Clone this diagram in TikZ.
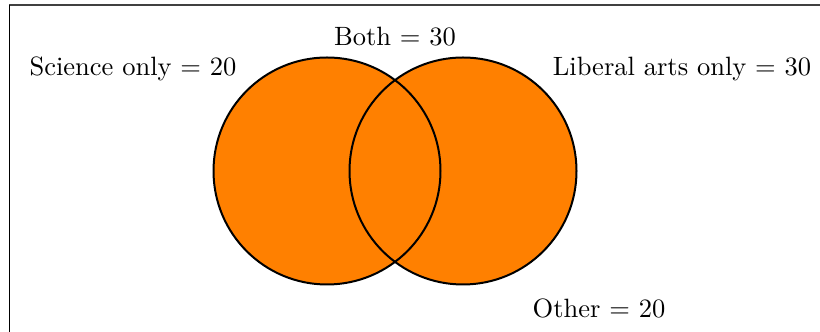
\documentclass[tikz,border=0pt]{standalone}
\begin{document}
\begin{tikzpicture}[x=0.4pt,y=0.4pt,
  vennfill/.style={circle, fill=orange, minimum size=227*0.4pt, inner sep=0pt},
  vennline/.style={circle, draw=black, line width=0.8pt, minimum size=227*0.4pt, inner sep=0pt},
  lbl/.style={font=\fontsize{10.6pt}{12pt}\selectfont, inner sep=0pt}]
\useasboundingbox (0,0) rectangle (820,332);
\coordinate (tl) at (9,327);
\coordinate (tr) at (820,327);
\coordinate (bl) at (9,0);
\draw[line width=0.5pt, black!75] (tl) -- (tr);
\draw[line width=0.4pt] (tl) -- (bl);
\node[vennfill] (sci) at (327,161) {};
\node[vennfill] (lib) at (463,161) {};
\node[vennline] (scio) at (327,161) {};
\node[vennline] (libo) at (463,161) {};
\node[lbl] (s) at (133,263) {Science only = 20};
\node[lbl] (b) at (395,295) {Both = 30};
\node[lbl] (l) at (682,263) {Liberal arts only = 30};
\node[lbl] (o) at (599,24) {Other = 20};
\end{tikzpicture}
\end{document}
